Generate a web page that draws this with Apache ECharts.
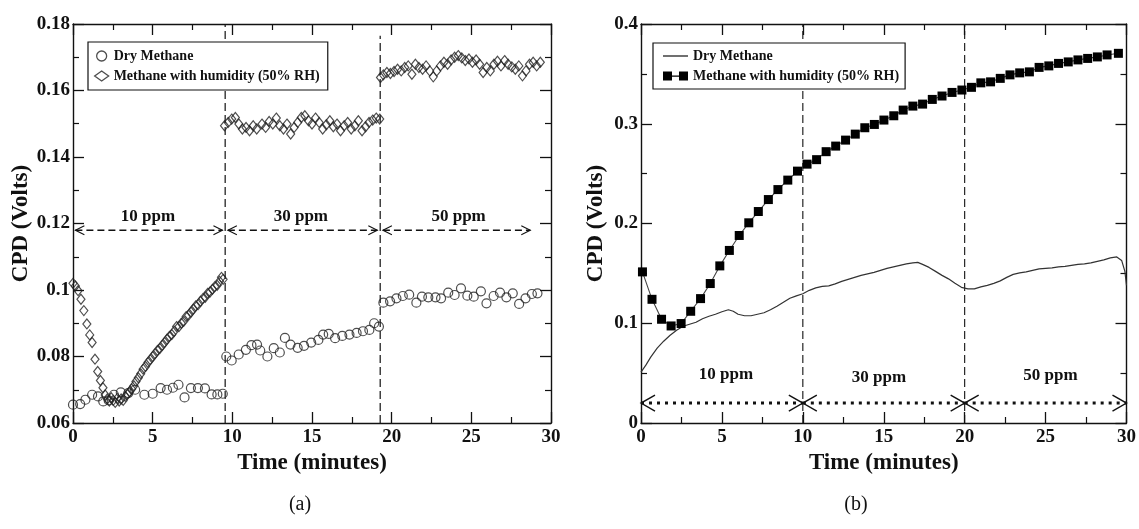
<!DOCTYPE html>
<html>
<head>
<meta charset="utf-8">
<title>CPD response to methane</title>
<script src="https://cdn.jsdelivr.net/npm/echarts@6/dist/echarts.min.js"></script>
<style>
  html, body { margin: 0; padding: 0; background: #fff; }
  #chart { width: 1139px; height: 529px; }
</style>
</head>
<body>
<div id="chart"></div>
<script>
// ---------- panel (a): step exposure, scatter readings [time (min), CPD (V)] ----------
const dryA = [
  [0.0,0.0655],[0.45,0.0657],[0.78,0.0670],[1.2,0.0685],[1.57,0.0680],[1.9,0.0665],[2.24,0.0668],
  [2.57,0.0685],[3.0,0.0692],[3.47,0.0690],[3.9,0.0700],[4.48,0.0685],[5.0,0.0688],[5.5,0.0705],
  [5.9,0.0700],[6.27,0.0706],[6.62,0.0715],[7.0,0.0677],[7.4,0.0705],[7.84,0.0705],[8.28,0.0704],
  [8.7,0.0686],[9.06,0.0686],[9.4,0.0688],
  [9.62,0.0800],[9.96,0.0788],[10.4,0.0806],[10.85,0.0820],[11.2,0.0834],[11.55,0.0836],[11.75,0.0818],
  [12.2,0.0800],[12.6,0.0825],[12.98,0.0812],[13.3,0.0856],[13.65,0.0836],[14.1,0.0826],[14.5,0.0832],
  [14.95,0.0842],[15.4,0.0850],[15.7,0.0866],[16.05,0.0868],[16.45,0.0855],[16.9,0.0862],[17.35,0.0866],
  [17.8,0.0871],[18.2,0.0876],[18.6,0.0880],[18.9,0.0900],[19.2,0.0890],
  [19.48,0.0962],[19.9,0.0966],[20.3,0.0975],[20.7,0.0982],[21.1,0.0986],[21.55,0.0962],[21.9,0.0980],
  [22.3,0.0978],[22.75,0.0978],[23.1,0.0975],[23.55,0.0992],[23.95,0.0985],[24.35,0.1005],[24.75,0.0983],
  [25.15,0.0980],[25.6,0.0996],[25.95,0.0960],[26.4,0.0982],[26.8,0.0992],[27.2,0.0978],[27.6,0.0990],
  [28.0,0.0958],[28.4,0.0975],[28.8,0.0988],[29.15,0.0990]
];
const humidA = [
  [0.0,0.1020],[0.15,0.1012],[0.32,0.0998],[0.5,0.0972],[0.68,0.0938],[0.87,0.0898],[1.05,0.0865],
  [1.2,0.0842],[1.38,0.0792],[1.55,0.0755],[1.72,0.0728],[1.88,0.0706],[2.02,0.0684],[2.15,0.0672],
  [2.28,0.0666],[2.4,0.0676],[2.52,0.0668],[2.65,0.0662],[2.78,0.0674],[2.9,0.0666],[3.02,0.0672],
  [3.15,0.0668],[3.28,0.0680],[3.42,0.0686],[3.55,0.0694],[3.68,0.0702],[3.82,0.0712],[3.95,0.0725],
  [4.1,0.0736],[4.25,0.0748],[4.4,0.0762],[4.55,0.0770],[4.7,0.0782],[4.85,0.0790],[5.0,0.0800],
  [5.15,0.0808],[5.3,0.0818],[5.45,0.0824],[5.6,0.0834],[5.75,0.0842],[5.9,0.0852],[6.05,0.0860],
  [6.2,0.0866],[6.35,0.0876],[6.5,0.0890],[6.65,0.0890],[6.8,0.0900],[6.95,0.0906],[7.1,0.0920],
  [7.25,0.0924],[7.4,0.0934],[7.55,0.0942],[7.7,0.0952],[7.85,0.0956],[8.0,0.0966],[8.15,0.0974],
  [8.3,0.0978],[8.45,0.0990],[8.6,0.0994],[8.75,0.1002],[8.9,0.1010],[9.05,0.1014],[9.2,0.1026],
  [9.32,0.1038],[9.42,0.1032],
  [9.51,0.1494],[9.74,0.1504],[9.96,0.1514],[10.19,0.1519],[10.41,0.1499],[10.63,0.1484],[10.86,0.1489],
  [11.08,0.1479],[11.31,0.1494],[11.53,0.1484],[11.86,0.1499],[12.09,0.1489],[12.31,0.1507],[12.54,0.1499],
  [12.76,0.1517],[12.98,0.1494],[13.21,0.1484],[13.43,0.1499],[13.66,0.1469],[13.88,0.1489],[14.1,0.1504],
  [14.33,0.1519],[14.55,0.1524],[14.78,0.1509],[15.0,0.1499],[15.22,0.1517],[15.45,0.1504],[15.67,0.1484],
  [15.9,0.1497],[16.12,0.1509],[16.34,0.1491],[16.57,0.1499],[16.79,0.1479],[17.02,0.1494],[17.24,0.1504],
  [17.46,0.1484],[17.69,0.1494],[17.91,0.1509],[18.14,0.1479],[18.36,0.1491],[18.58,0.1504],[18.81,0.1511],
  [19.03,0.1517],[19.25,0.1514],
  [19.3,0.1639],[19.48,0.1647],[19.7,0.1654],[19.92,0.1651],[20.15,0.1657],[20.37,0.1664],[20.6,0.1659],
  [20.82,0.1669],[21.04,0.1674],[21.27,0.1649],[21.49,0.1679],[21.71,0.1669],[21.94,0.1664],[22.16,0.1674],
  [22.39,0.1659],[22.61,0.1641],[22.83,0.1659],[23.06,0.1674],[23.28,0.1685],[23.51,0.1679],[23.73,0.1692],
  [23.95,0.1700],[24.18,0.1705],[24.4,0.1698],[24.62,0.1690],[24.85,0.1695],[25.07,0.1685],[25.3,0.1692],
  [25.52,0.1679],[25.74,0.1654],[25.97,0.1669],[26.19,0.1659],[26.42,0.1679],[26.64,0.1688],[26.86,0.1674],
  [27.09,0.1690],[27.31,0.1679],[27.54,0.1671],[27.76,0.1664],[27.98,0.1674],[28.21,0.1644],[28.43,0.1659],
  [28.65,0.1679],[28.88,0.1685],[29.1,0.1674],[29.33,0.1685]
];
// concentration steps: dividers [time, yFrom, yTo], spans [from, to, y], labels [text, time, y]
const dividersA = [[9.55, 0.06, 0.18], [19.28, 0.06, 0.1765]];
const spansA = [[0.15, 9.38, 0.118], [9.72, 19.1, 0.118], [19.45, 28.7, 0.118]];
const labelsA = [['10 ppm', 4.7, 0.1222], ['30 ppm', 14.3, 0.1222], ['50 ppm', 24.2, 0.1222]];

// ---------- panel (b): continuous exposure ----------
const dryB = [
  [0,0.051],[0.3,0.058],[0.6,0.066],[1.0,0.075],[1.4,0.082],[1.8,0.088],[2.2,0.093],[2.6,0.097],
  [3.0,0.099],[3.4,0.101],[3.8,0.1045],[4.2,0.107],[4.6,0.109],[5.0,0.1115],[5.4,0.1135],[5.7,0.112],
  [6.0,0.109],[6.4,0.1075],[6.8,0.1075],[7.2,0.109],[7.6,0.1105],[8.0,0.1135],[8.4,0.117],[8.8,0.121],
  [9.2,0.125],[9.6,0.1275],[10.0,0.1296],[10.4,0.133],[10.8,0.1355],[11.2,0.137],[11.6,0.1375],
  [12.0,0.1395],[12.4,0.142],[12.8,0.144],[13.2,0.146],[13.6,0.148],[14.0,0.1495],[14.4,0.151],
  [14.8,0.153],[15.2,0.155],[15.6,0.1565],[16.0,0.158],[16.4,0.1595],[16.8,0.1605],[17.1,0.161],
  [17.4,0.159],[17.8,0.156],[18.2,0.152],[18.6,0.148],[19.0,0.1445],[19.4,0.140],[19.8,0.136],
  [20.2,0.1345],[20.6,0.1345],[21.0,0.1365],[21.4,0.138],[21.8,0.140],[22.2,0.1425],[22.6,0.146],
  [23.0,0.149],[23.4,0.1505],[23.8,0.1515],[24.2,0.153],[24.6,0.1545],[25.0,0.155],[25.4,0.1555],
  [25.8,0.1565],[26.2,0.157],[26.6,0.158],[27.0,0.159],[27.4,0.1595],[27.8,0.1605],[28.2,0.162],
  [28.6,0.1635],[29.0,0.1655],[29.4,0.1665],[29.7,0.163],[29.9,0.152],[30.0,0.138]
];
const humidB = [
  [0.09,0.1515],[0.68,0.124],[1.27,0.104],[1.86,0.0973],[2.48,0.0997],[3.07,0.112],[3.68,0.1247],
  [4.28,0.1398],[4.87,0.1575],[5.46,0.173],[6.07,0.188],[6.66,0.2007],[7.25,0.212],[7.87,0.224],
  [8.46,0.234],[9.07,0.2435],[9.67,0.2525],[10.26,0.2595],[10.85,0.264],[11.44,0.272],[12.03,0.2776],
  [12.64,0.2836],[13.24,0.2896],[13.83,0.296],[14.42,0.2993],[15.01,0.3037],[15.62,0.308],[16.2,0.3137],
  [16.8,0.3177],[17.4,0.3197],[18.0,0.3244],[18.6,0.3278],[19.22,0.3314],[19.83,0.3338],[20.42,0.3365],
  [21.0,0.341],[21.6,0.342],[22.2,0.3455],[22.8,0.349],[23.4,0.351],[24.0,0.352],[24.6,0.3565],
  [25.2,0.358],[25.8,0.3605],[26.4,0.362],[27.0,0.364],[27.6,0.3655],[28.2,0.367],[28.8,0.369],[29.5,0.3706]
];
const dividersB = [[10, 0, 0.4], [20, 0, 0.4]];
const spansB = [[0, 10, 0.02], [10, 20, 0.02], [20, 30, 0.02]];
const labelsB = [['10 ppm', 5.25, 0.0488], ['30 ppm', 14.7, 0.0455], ['50 ppm', 25.3, 0.0472]];

// axis ranges and tick spacing
const timeRange = [0, 30, 5];
const cpdRangeA = [0.06, 0.18, 0.02];
const cpdRangeB = [0, 0.4, 0.1];

const seriesLabels = {
  dryA: 'Dry Methane', humidA: 'Methane with humidity (50% RH)',
  dryB: 'Dry Methane', humidB: 'Methane with humidity (50% RH)'
};

const FONT = '"Liberation Serif", "Times New Roman", serif';
const INK = '#111';

function frameAxis(extra) {
  return Object.assign({
    type: 'value',
    axisLine: { show: true, onZero: false, lineStyle: { color: INK, width: 1.4 } },
    axisTick: { show: true, inside: true, length: 11, lineStyle: { color: INK, width: 1.3 } },
    minorTick: { show: true, splitNumber: 2, length: 6, lineStyle: { color: INK, width: 1.2 } },
    splitLine: { show: false },
    minorSplitLine: { show: false },
    axisLabel: { show: false }
  }, extra);
}
const tickLabel = (margin) => ({
  show: true, color: INK, fontFamily: FONT, fontWeight: 'bold', fontSize: 19, margin: margin
});
const axisName = { color: INK, fontFamily: FONT, fontWeight: 'bold', fontSize: 23 };

function timeAxes(grid) {
  const base = { gridIndex: grid, min: timeRange[0], max: timeRange[1], interval: timeRange[2] };
  return [
    frameAxis(Object.assign({}, base, {
      position: 'bottom', axisLabel: tickLabel(5),
      name: 'Time (minutes)', nameLocation: 'middle', nameGap: 19, nameTextStyle: axisName
    })),
    frameAxis(Object.assign({}, base, { position: 'top' }))
  ];
}
function cpdAxes(grid, range, gap) {
  const base = { gridIndex: grid, min: range[0], max: range[1], interval: range[2] };
  return [
    frameAxis(Object.assign({}, base, {
      position: 'left', axisLabel: tickLabel(3),
      name: 'CPD (Volts)', nameLocation: 'middle', nameGap: gap, nameTextStyle: axisName
    })),
    frameAxis(Object.assign({}, base, { position: 'right' }))
  ];
}

// dashed vertical separators between concentration steps
function dividerSeries(data, xi, yi, dash, width) {
  return {
    type: 'custom', xAxisIndex: xi, yAxisIndex: yi, silent: true, clip: false, z: 3,
    data: data, encode: { x: 0, y: [1, 2] },
    renderItem: function (params, api) {
      const a = api.coord([api.value(0), api.value(1)]);
      const b = api.coord([api.value(0), api.value(2)]);
      return { type: 'line', shape: { x1: a[0], y1: a[1], x2: b[0], y2: b[1] },
        style: { stroke: INK, lineWidth: width, lineDash: dash } };
    }
  };
}
// double-headed arrows spanning each concentration step
function spanSeries(data, xi, yi, s) {
  return {
    type: 'custom', xAxisIndex: xi, yAxisIndex: yi, silent: true, clip: false, z: 3,
    data: data, encode: { x: [0, 1], y: 2 },
    renderItem: function (params, api) {
      const a = api.coord([api.value(0), api.value(2)]);
      const b = api.coord([api.value(1), api.value(2)]);
      const w = s.headW, h = s.headH;
      const head = { stroke: INK, fill: null, lineWidth: s.headWidth };
      return { type: 'group', children: [
        { type: 'line', shape: { x1: a[0], y1: a[1], x2: b[0], y2: b[1] },
          style: { stroke: INK, lineWidth: s.width, lineDash: s.dash } },
        { type: 'polyline', shape: { points: [[a[0] + w, a[1] - h], [a[0], a[1]], [a[0] + w, a[1] + h]] }, style: head },
        { type: 'polyline', shape: { points: [[b[0] - w, b[1] - h], [b[0], b[1]], [b[0] - w, b[1] + h]] }, style: head }
      ] };
    }
  };
}
// step labels ("10 ppm" ...)
function labelSeries(labels, xi, yi, size) {
  return {
    type: 'custom', xAxisIndex: xi, yAxisIndex: yi, silent: true, clip: false, z: 3,
    data: labels.map(function (l) { return [l[1], l[2]]; }),
    encode: { x: 0, y: 1 },
    renderItem: function (params, api) {
      const p = api.coord([api.value(0), api.value(1)]);
      return { type: 'text', x: p[0], y: p[1], style: {
        text: labels[params.dataIndex][0], fill: INK,
        font: 'bold ' + size + 'px ' + FONT, align: 'center', verticalAlign: 'middle' } };
    }
  };
}

const legendText = { color: INK, fontFamily: FONT, fontWeight: 'bold', fontSize: 14 };
const lineIcon = 'path://M0,4h25v1.3h-25z';
const squaresIcon = 'path://M0,0h9v9h-9z M9,4h7v1.3h-7z M16,0h9v9h-9z';

const option = {
  animation: false,
  backgroundColor: '#fff',
  grid: [
    { left: 73, top: 24, width: 478, height: 399 },
    { left: 641, top: 24, width: 486, height: 399 }
  ],
  xAxis: timeAxes(0).concat(timeAxes(1)),
  yAxis: cpdAxes(0, cpdRangeA, 40).concat(cpdAxes(1, cpdRangeB, 33)),
  legend: [
    {
      left: 88, top: 42, orient: 'vertical', itemGap: 6, itemWidth: 14, itemHeight: 10,
      padding: [7, 8, 7, 6], borderColor: INK, borderWidth: 1.2, backgroundColor: '#fff',
      selectedMode: false, textStyle: legendText,
      formatter: function (n) { return seriesLabels[n]; },
      data: [
        { name: 'dryA', icon: 'circle', itemStyle: { color: '#fff', borderColor: '#222', borderWidth: 1.3 } },
        { name: 'humidA', icon: 'diamond', itemStyle: { color: '#fff', borderColor: '#222', borderWidth: 1.3 } }
      ]
    },
    {
      left: 653, top: 43, orient: 'vertical', itemGap: 6, itemWidth: 25, itemHeight: 9,
      padding: [6, 6, 6, 10], borderColor: INK, borderWidth: 1.2, backgroundColor: '#fff',
      selectedMode: false, textStyle: legendText,
      formatter: function (n) { return seriesLabels[n]; },
      data: [
        { name: 'dryB', icon: lineIcon, itemStyle: { color: '#222' } },
        { name: 'humidB', icon: squaresIcon, itemStyle: { color: '#000' } }
      ]
    }
  ],
  graphic: [
    { type: 'text', x: 300, y: 505, style: { text: '(a)', font: '20px ' + FONT, fill: INK, align: 'center', verticalAlign: 'middle' } },
    { type: 'text', x: 856, y: 505, style: { text: '(b)', font: '20px ' + FONT, fill: INK, align: 'center', verticalAlign: 'middle' } }
  ],
  series: [
    dividerSeries(dividersA, 0, 0, [8, 4], 1.2),
    spanSeries(spansA, 0, 0, { width: 1.5, dash: [7, 4], headW: 9, headH: 4.5, headWidth: 1.1 }),
    labelSeries(labelsA, 0, 0, 17),
    {
      name: 'dryA', type: 'scatter', xAxisIndex: 0, yAxisIndex: 0, data: dryA,
      symbol: 'circle', symbolSize: 9, z: 4,
      itemStyle: { color: 'rgba(255,255,255,0)', borderColor: '#222', borderWidth: 1.2 }
    },
    {
      name: 'humidA', type: 'scatter', xAxisIndex: 0, yAxisIndex: 0, data: humidA,
      symbol: 'diamond', symbolSize: [8, 10], z: 4,
      itemStyle: { color: 'rgba(255,255,255,0)', borderColor: '#222', borderWidth: 1.2 }
    },
    dividerSeries(dividersB, 2, 2, [8, 4], 1.1),
    spanSeries(spansB, 2, 2, { width: 3, dash: [3, 5], headW: 14, headH: 8, headWidth: 1.4 }),
    labelSeries(labelsB, 2, 2, 17),
    {
      name: 'dryB', type: 'line', xAxisIndex: 2, yAxisIndex: 2, data: dryB,
      showSymbol: false, symbol: 'none', z: 4,
      lineStyle: { color: '#333', width: 1.2 }, itemStyle: { color: '#333' }
    },
    {
      name: 'humidB', type: 'line', xAxisIndex: 2, yAxisIndex: 2, data: humidB,
      symbol: 'rect', symbolSize: 9, showAllSymbol: true, z: 5,
      lineStyle: { color: '#444', width: 1.1 }, itemStyle: { color: '#000' }
    }
  ]
};

const chart = echarts.init(document.getElementById('chart'), null, { renderer: 'canvas' });
chart.setOption(option);
</script>
</body>
</html>
